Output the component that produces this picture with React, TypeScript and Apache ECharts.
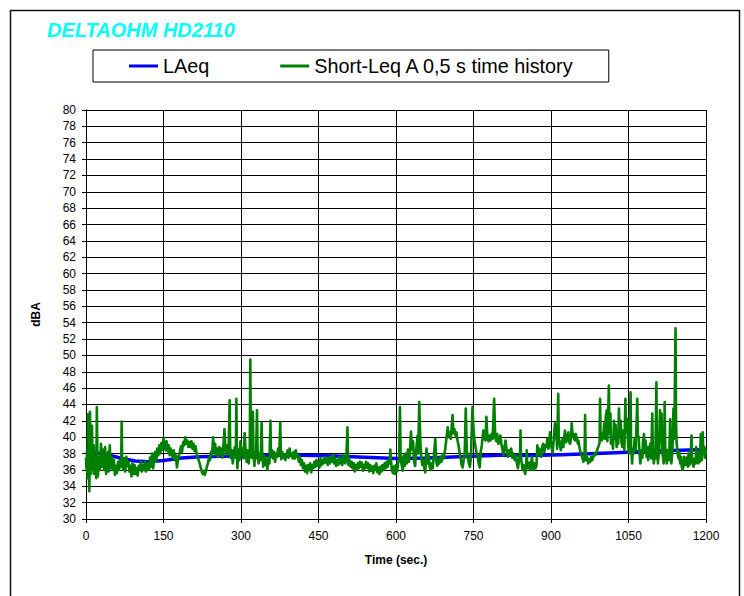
import React, { useEffect, useRef } from "react";
import * as echarts from "echarts";

const TITLE = "DELTAOHM HD2110";
const SERIES_NAMES = ["LAeq", "Short-Leq A 0,5 s time history"];
const X_AXIS_NAME = "Time (sec.)";
const Y_AXIS_NAME = "dBA";

const laeq: number[][] = [
  [0, 38.4], [20, 38.1], [45, 37.8], [70, 37.4], [95, 37.1], [120, 37.0], [150, 37.15],
  [185, 37.45], [220, 37.6], [290, 37.7], [350, 37.8], [420, 37.8], [480, 37.7], [540, 37.55],
  [600, 37.4], [660, 37.45], [720, 37.6], [800, 37.8], [860, 37.75], [920, 37.85], [1000, 38.05],
  [1060, 38.2], [1120, 38.35], [1200, 38.5],
];

const short0: number[][] = [
  [0,37.5],[1,36],[2,38.2],[3,35],[4,42.8],[5,37],[6.5,33.4],[7,36.5],[7.7,43.1],[9,37],[10,35.5],[11.6,41.4],[12.5,37],[13.5,36],[15,39],[16,35.5],[17,38],[18,36],[19,37.6],[20,35],[21,43.7],[22,38],[23,35.2],[25,37.5],[27,36],[29,39.2],[31,36.4],[33,38.5],[35,36],[37,38.8],[39,35.5],[41,37],[43,38.2],[44,35.8],[46,39],[48,36.2],[50,37.5],[52,36],[54,37.2],[56,35.4],[58,36.5],[60,35.6],[62,37],[64,36],[66,37.2],[68,36.4],[69,41.9],[70,37],[72,36],[74,37.4],[76,35.8],[78,37.6],[80,36.5],[82,37],[84,35.8],[86,36.5],[88,35.2],[90,36.8],[92,35.5],[94,36.6],[96,35.5],[98,36.2],[100,35.3],[102,36.5],[104,36],[106,37],[108,35.8],[110,36.6],[112,36],[114,37],[116,35.8],[118,36.5],[120,36.8],[122,36],[124,37.5],[126,36.4],[128,38],[130,36.2],[132,37.5],[134,38.2],[136,37],[138,38.6],[140,37.8],[142,39],[144,38],[146,39.3],[148,38.5],[150,39.9],[152,39.2],[154,38.4],[156,39.5],[158,38.3],[160,39],[162,37.8],[164,38.6],[166,38],[168,37.5],[170,38.4],[172,37.2],[174,37.8],[176,36.3],[178,37.2],[180,37.8],[182,38.3],[184,38.9],[186,38.2],[188,39.4],[190,39],[192,40],[194,39.2],[196,39.6],[198,38.8],[200,39.4],
];

const short1: number[][] = [
  [202,38.8],[204,39.5],[206,38.6],[208,39.2],[210,38.3],[212,38.9],[214,38],[216,37.6],[218,37.2],[220,36.8],[222,36.3],[224,35.8],[226,35.5],[228,35.9],[230,35.4],[232,35.8],[234,36.4],[236,36.8],[238,37.5],[240,37.2],[242,38.2],[244,37.8],[246,40],[248,38.2],[250,39.2],[252,37.8],[254,38.6],[256,37.6],[258,38.8],[260,38],[262,38.6],[264,37.5],[266,39],[268,41],[270,38.3],[272,37.8],[274,39],[276,38],[278,44.5],[279,39],[280,37.5],[282,38.4],[284,36.8],[286,37.9],[288,38.8],[290,37.5],[291,44.7],[292,38],[293,36.2],[295,38.5],[297,37.2],[299,39.5],[301,37.8],[303,38.6],[305,37.4],[307,40.5],[309,38.2],[311,37],[313,38.4],[315,36.8],[317,38.5],[318,49.5],[319,40],[321,37.5],[323,43.1],[324,38],[326,36.5],[327,38.2],[329,37.4],[331,43.3],[332,38.5],[334,36.8],[336,38],[338,37.2],[340,41.8],[341,38],[343,36.4],[345,37.8],[347,36.6],[349,37.4],[351,36],[353,37.5],[355,36.8],[357,42],[358,37.6],[360,38.4],[362,37.4],[364,38.2],[366,37],[368,38],[370,37.6],[372,38.6],[374,37.8],[376,41.8],[377,38],[378,37.3],[380,38.2],[382,37.5],[384,37.9],[386,37.2],[388,37.8],[390,38.4],[392,37.5],[394,38.6],[396,37.7],[398,38],[400,37.4],
];

const short2: number[][] = [
  [402,38.2],[404,37.4],[406,38.4],[408,37.6],[410,37.8],[412,37],[414,37.6],[416,36.6],[418,37.2],[420,36.2],[422,36.8],[424,35.8],[426,36.5],[428,35.6],[430,36.6],[432,36],[434,36.8],[436,35.7],[438,36.6],[440,36.2],[442,37],[444,36.4],[446,37.2],[448,36.5],[450,37],[452,36.3],[454,37.4],[456,36.6],[458,37.2],[460,36.8],[462,37.6],[464,36.9],[466,37.3],[468,36.6],[470,37.5],[472,36.8],[474,37.6],[476,37],[478,37.8],[480,36.8],[482,37.4],[484,36.5],[486,37.2],[488,36.6],[490,37.6],[492,36.8],[494,37.4],[496,36.6],[498,37.8],[500,37],[502,36.8],[504,37.6],[506,41.2],[507,38],[508,36.6],[510,37.2],[512,36.4],[514,37],[516,36.2],[518,36.8],[520,35.8],[522,36.6],[524,36],[526,36.8],[528,36.2],[530,37],[532,36.4],[534,36.9],[536,35.9],[538,36.6],[540,36.2],[542,37],[544,36.3],[546,36.8],[548,35.8],[550,36.6],[552,35.9],[554,36.4],[556,35.6],[558,36.5],[560,36],[562,36.8],[564,35.7],[566,36.3],[568,35.5],[570,36.4],[572,35.8],[574,36.6],[576,36],[578,36.8],[580,36.2],[582,37],[584,36.4],[586,37.2],[588,36.8],[589,38.5],[590,37.4],[592,36],[594,35.6],[596,36.4],[598,35.5],[600,36.6],[602,35.8],[604,36.8],[606,37.2],
];

const short3: number[][] = [
  [607.6,43.7],[609,37.5],[611,36.6],[613,35.9],[615,37.8],[617,36.5],[619,38],[621,36.8],[623,38.5],[625,37],[627,38.2],[629,40.7],[631,38.5],[633,39.5],[635,37],[637,36.5],[639,38.4],[641.8,40.2],[643,38],[645,44.3],[647,39.5],[649,37.5],[651,36.6],[653,37.2],[655,36.2],[656.6,35.7],[659,38.6],[661,36.8],[663,37.8],[665,36.4],[667,36],[669,36.8],[671,36.2],[673,37.5],[676,39.8],[678,37],[680,36.5],[682,37.3],[684,36.8],[686,37.6],[688,37],[690,37.8],[692,37.4],[695,38.4],[697,39.5],[700,41.2],[702,40],[704,40.6],[706,39.8],[709.5,42.7],[711,40.5],[713,41],[715,40.2],[717,40.6],[719,39.6],[721,39],[723,38.2],[725,37.5],[727,36.6],[729,36.3],[731,37.2],[733,38],[735,43.5],[737,38.4],[739,37.5],[741,36.8],[743,36.4],[745,37.5],[748,43.7],[750,41],[752,39.5],[754,38.8],[756,38],[758,37.6],[760,36.8],[762,36.3],[764,38.2],[766,39],[769,40.8],[771,40],[773,39.6],[775,42.5],[777,39.8],[779,39.5],[781,40.2],[783,39.6],[785,40.4],[787,39.8],[790,44.7],[792,40],[794,39.5],[796,40.4],[798,39.2],
];

const short4: number[][] = [
  [800,39.6],[802,40.2],[804,39.2],[806,38.5],[808,37.8],[810,38.8],[812,39.6],[814,38.4],[816,37.9],[817,37.6],[819,38.4],[821,37.8],[823,38.6],[825,37.5],[827,38],[830,37.2],[832,37.8],[834,36.8],[836,36.2],[838,37.2],[840,38],[841,40.8],[842,37.5],[844,36.5],[845,36],[847,36.6],[849,35.8],[850,35.5],[852,36.4],[853,38.4],[854,36.6],[856,36.2],[858,36.9],[860,36],[862,37],[863,37.6],[865,36.4],[866,36],[868,36.8],[870,36.2],[872,36.6],[873.5,39],[875,37.8],[877,38.6],[879,38.4],[881,37.6],[883,38.8],[885,39.2],[887,38.2],[889,39],[891,38.8],[893,39.8],[895,38.6],[897,39.4],[898,40.6],[900,39.2],[902,38.4],[903,38],[905,39.5],[907.6,41.7],[909,40.2],[911,39.6],[912,38.6],[914,45.3],[915,40],[917,39.2],[919,38.4],[921,39.4],[922.6,39.8],[924,38.8],[926,40.2],[927,40.8],[929,39.4],[930,39.6],[932,40.2],[933.6,40.6],[935,39.4],[937,39.2],[939,40],[940,41.7],[942,40.2],[943,40.4],[945,39.8],[946.5,39.6],[948,40.4],[950,39.8],[952,39.2],[953,39.6],[955,38.8],[957,38.2],[959,37.8],[961,37.4],[963,37],[965,37.6],[966,42.7],[967,38],[968,37.2],[970,37.6],[972,36.8],[974,37.3],[976,37],[978,37.6],[980,37.2],[982,37.6],[984,38],[986,37.8],[988.5,38.2],[990,38.6],[992,38.9],[994,39.3],[995,44.7],[996,39.8],[998,39.6],[1000,40.2],
];

const short5: number[][] = [
  [1002,40.8],[1003,41.7],[1004,39.8],[1006,42.5],[1008,43.3],[1009,39.5],[1010,41],[1012,46.3],[1013,40.5],[1015,42.9],[1016,39.2],[1018,40],[1020,38.6],[1022,42],[1024,39.8],[1025,41.5],[1027,38.8],[1029,40.6],[1030,39.2],[1031.5,43.5],[1033,40.2],[1035,42],[1036,39.5],[1038,38.8],[1039,40.8],[1041,40.4],[1042,38.4],[1044,44.7],[1045,40.6],[1046,42.3],[1047.5,42],[1049,39.4],[1050.7,38],[1052,40.2],[1054,45.5],[1055,39],[1057,36.8],[1058,38.5],[1060,38],[1062,39.8],[1064,38.4],[1065,40.5],[1067,44.7],[1068,40.2],[1070,40],[1071,38.2],[1073,36.8],[1075,38.4],[1077,37.5],[1078,39.4],[1080,40.4],[1081,38.2],[1083,39.6],[1085,37.6],[1087,38.8],[1088,37.2],[1090,38],[1092,39.2],[1094,37.4],[1096,42.9],[1097,38.6],[1099,36.8],[1101,38.2],[1102,37.4],[1104,46.7],[1105,39],[1107,36.8],[1109,38.4],[1111,43.3],[1112,39.5],[1114,42.9],[1115,38.5],[1118,36.8],[1119,38.2],[1120,44.3],[1121,39],[1123,37.4],[1124,36.8],[1126,38.4],[1128,37.2],[1129,38],[1130.6,42.2],[1131.5,38.6],[1133,36.8],[1135,38.5],[1137,43.5],[1138,39.8],[1139,42],[1141,53.3],[1142,42],[1143,39.5],[1145,38],[1147,37.4],[1148,38.2],[1150,36.8],[1152,37.6],[1153,36.4],[1155,36],[1157,36.8],[1158,37.6],[1160,36.6],[1161,36.8],[1163,37.5],[1165,36.4],[1166,38],[1168,36.6],[1170,37.2],[1172,40.2],[1173,37],[1176,36.4],[1178,37.4],[1180,36.8],[1181,38.8],[1183,37.2],[1185,36.8],[1187,38.2],[1188,37],[1190,40.4],[1191,38.4],[1192,37.2],[1193.6,40.6],[1195,38],[1197,38.8],[1198,37.5],[1200,38.6],
];

const shortLeq = [...short0, ...short1, ...short2, ...short3, ...short4, ...short5];

export default function App() {
  const ref = useRef<HTMLDivElement>(null);
  useEffect(() => {
    if (!ref.current) return;
    const chart = echarts.init(ref.current, undefined, { renderer: "svg" });
    const font = "Arial";
    chart.setOption({
      animation: false,
      backgroundColor: "#ffffff",
      textStyle: { fontFamily: font },
      title: {
        text: TITLE,
        left: 47,
        top: 20,
        padding: 0,
        textStyle: {
          color: "#00FFFF",
          fontSize: 20,
          fontStyle: "italic",
          fontWeight: "bold",
          fontFamily: font,
        },
      },
      legend: {
        left: 93,
        top: 50,
        padding: [6, 34, 6, 36],
        itemGap: 71,
        itemWidth: 29,
        itemHeight: 3,
        icon: "rect",
        itemStyle: { borderWidth: 0 },
        borderColor: "#000",
        borderWidth: 1,
        textStyle: { fontSize: 19.8, color: "#000", fontFamily: font },
        data: SERIES_NAMES,
      },
      grid: { left: 86, right: 38, top: 110, bottom: 77 },
      xAxis: {
        type: "value",
        min: 0,
        max: 1200,
        interval: 150,
        name: X_AXIS_NAME,
        nameLocation: "middle",
        nameGap: 35,
        nameTextStyle: { fontWeight: "bold", fontSize: 12, color: "#000", fontFamily: font },
        axisLine: { lineStyle: { color: "#000", width: 1 } },
        axisTick: { show: true, inside: false, length: 4, lineStyle: { color: "#000" } },
        axisLabel: {
          margin: 11,
          fontSize: 12,
          color: "#000",
          fontFamily: font,
          formatter: (v: number) => String(v),
        },
        splitLine: { show: true, lineStyle: { color: "#000", width: 1 } },
      },
      yAxis: {
        type: "value",
        min: 30,
        max: 80,
        interval: 2,
        name: Y_AXIS_NAME,
        nameLocation: "middle",
        nameGap: 44,
        nameRotate: 90,
        nameTextStyle: { fontWeight: "bold", fontSize: 12, color: "#000", fontFamily: font },
        axisLine: { show: true, lineStyle: { color: "#000", width: 1 } },
        axisTick: { show: true, inside: false, length: 4, lineStyle: { color: "#000" } },
        axisLabel: {
          margin: 10,
          fontSize: 12,
          color: "#000",
          fontFamily: font,
          formatter: (v: number) => String(v),
        },
        splitLine: { show: true, lineStyle: { color: "#000", width: 1 } },
      },
      series: [
        {
          name: SERIES_NAMES[0],
          type: "line",
          data: laeq,
          symbol: "none",
          smooth: false,
          lineStyle: { color: "#0000FF", width: 3.5 },
          itemStyle: { color: "#0000FF" },
        },
        {
          name: SERIES_NAMES[1],
          type: "line",
          data: shortLeq,
          symbol: "none",
          lineStyle: { color: "#008000", width: 2.6, join: "round" },
          itemStyle: { color: "#008000" },
        },
      ],
      graphic: [
        {
          type: "rect",
          silent: true,
          shape: { x: 10.5, y: 10.5, width: 729, height: 640 },
          style: { fill: "none", stroke: "#111", lineWidth: 1.5 },
        },
      ],
    });
    return () => chart.dispose();
  }, []);
  return (
    <div
      ref={ref}
      style={{ position: "absolute", left: 0, top: 0, width: 744, height: 596 }}
    />
  );
}
